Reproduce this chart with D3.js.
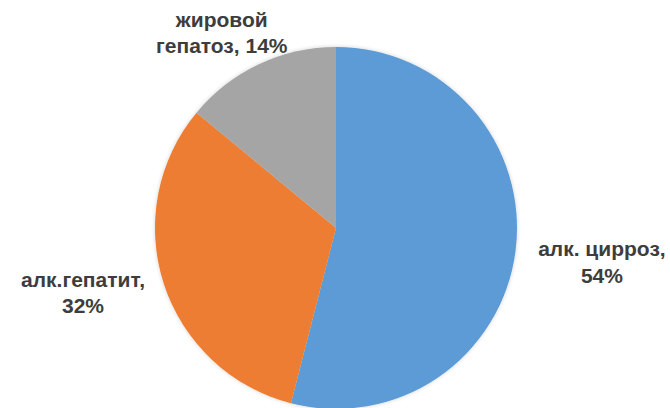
<!DOCTYPE html>
<html>
<head>
<meta charset="utf-8">
<script src="https://cdn.jsdelivr.net/npm/d3@7/dist/d3.min.js"></script>
<style>
  html, body { margin: 0; padding: 0; background: #ffffff; }
  svg { display: block; }
</style>
</head>
<body>
<svg id="chart" width="670" height="408"></svg>
<script>
// Structure of alcoholic liver disease cases
const categories = ["алк. цирроз", "алк.гепатит", "жировой гепатоз"];
const labelLines = [["алк. цирроз,", "54%"], ["алк.гепатит,", "32%"], ["жировой", "гепатоз, 14%"]];
const values = [54, 32, 14];
const colors = ["#5b9bd5", "#ed7d31", "#a5a5a5"];

const W = 670, H = 408;
const cx = 336, cy = 228, radius = 181;

// Label placement: distance from centre along the slice mid-angle, plus a nudge
const labelLayout = [
  { r: 266, dx: 2, dy: 1 },
  { r: 266, dx: 0, dy: -17 },
  { r: 226, dx: -18, dy: 9.5 }
];
const lineGap = 26.5;

const svg = d3.select("#chart");

const defs = svg.append("defs");
const shadow = defs.append("filter").attr("id", "soft")
  .attr("x", "-10%").attr("y", "-10%").attr("width", "120%").attr("height", "120%");
shadow.append("feGaussianBlur").attr("in", "SourceAlpha").attr("stdDeviation", 2).attr("result", "b");
shadow.append("feComponentTransfer").attr("in", "b").attr("result", "s")
  .append("feFuncA").attr("type", "linear").attr("slope", 0.18);
const merge = shadow.append("feMerge");
merge.append("feMergeNode").attr("in", "s");
merge.append("feMergeNode").attr("in", "SourceGraphic");

const pie = d3.pie().sort(null).value(d => d);
const arcs = pie(values);
const arc = d3.arc().innerRadius(0).outerRadius(radius);

const g = svg.append("g").attr("transform", `translate(${cx},${cy})`);

g.append("g").attr("filter", "url(#soft)")
  .selectAll("path")
  .data(arcs)
  .join("path")
  .attr("d", arc)
  .attr("fill", (d, i) => colors[i]);

const labels = g.selectAll("text.lbl")
  .data(arcs)
  .join("text")
  .attr("class", "lbl")
  .attr("text-anchor", "middle")
  .attr("font-family", "'Liberation Sans', Arial, sans-serif")
  .attr("font-weight", "bold")
  .attr("font-size", 21)
  .attr("fill", "#3d3d3d")
  .attr("transform", (d, i) => {
    const a = (d.startAngle + d.endAngle) / 2;
    const L = labelLayout[i];
    const x = Math.sin(a) * L.r + L.dx;
    const y = -Math.cos(a) * L.r + L.dy;
    return `translate(${x},${y})`;
  });

labels.selectAll("tspan")
  .data((d, i) => labelLines[i].map((t, k) => ({ t, k })))
  .join("tspan")
  .attr("x", 0)
  .attr("y", d => (d.k - 0.5) * lineGap + 7)
  .text(d => d.t);
</script>
</body>
</html>
